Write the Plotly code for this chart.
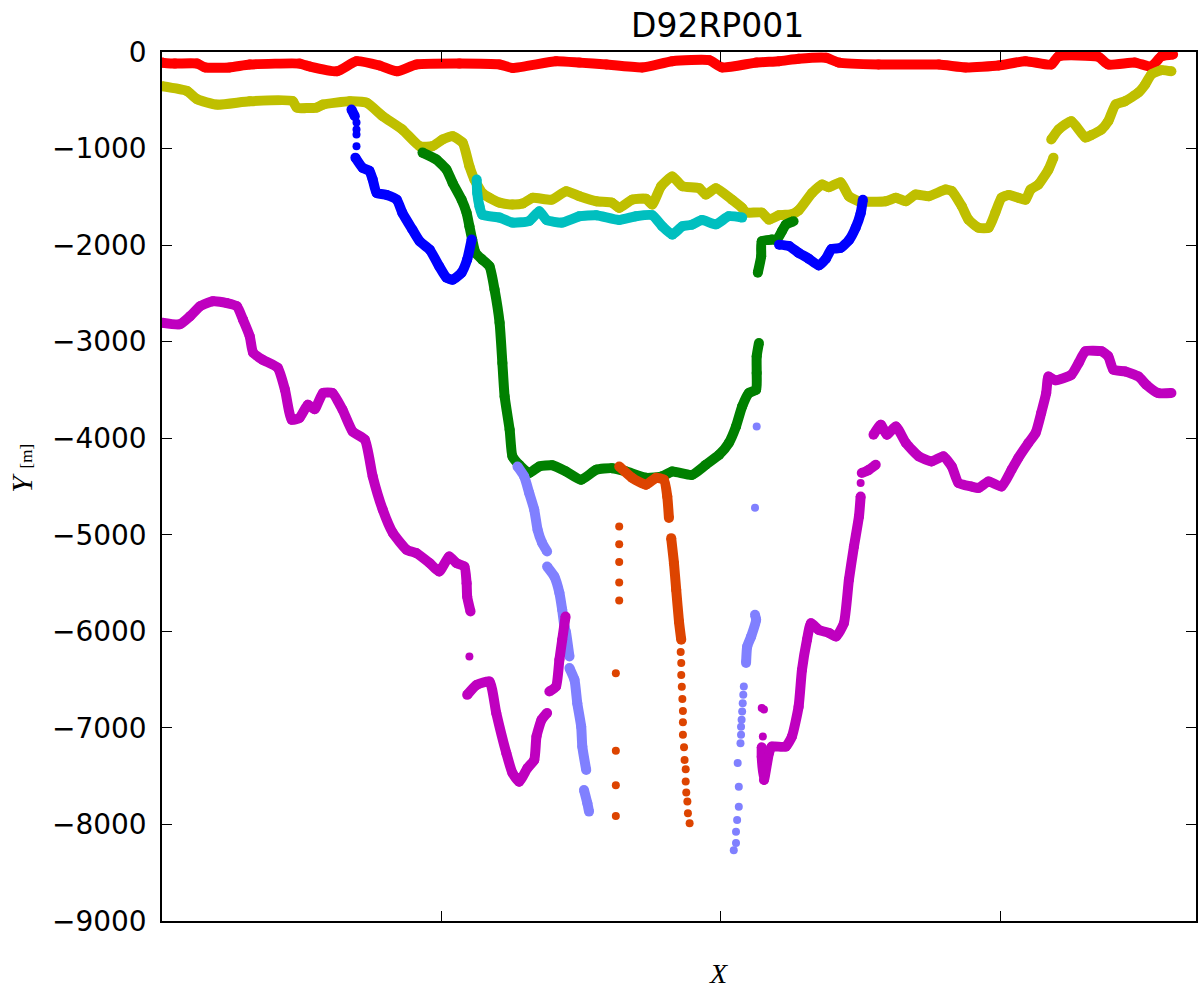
import plotly.graph_objects as go

# ---- data (X: trace index, Y: metres) ----
red_x = [0, 23, 63, 77, 121, 157, 246, 264, 313, 348, 389, 420, 455, 532, 604, 627, 705, 747, 795, 859, 913, 979, 1002, 1063, 1104, 1139, 1188, 1211, 1282, 1390, 1438, 1497, 1545, 1591, 1604, 1675, 1693, 1741, 1770, 1788, 1809]
red_y = [-110, -120, -120, -160, -160, -130, -120, -150, -200, -95, -140, -200, -130, -120, -130, -165, -95, -110, -130, -160, -95, -85, -160, -110, -95, -70, -60, -110, -130, -130, -160, -140, -95, -130, -45, -50, -130, -110, -150, -45, -25]

yellow_x = [0, 45, 63, 98, 157, 234, 241, 277, 288, 336, 366, 395, 430, 461, 484, 502, 520, 538, 550, 559, 573, 586, 604, 627, 645, 663, 697, 723, 747, 777, 805, 818, 841, 866, 877, 893, 913, 931, 961, 973, 991, 1020, 1038, 1045, 1073, 1086, 1104, 1127, 1139, 1163, 1181, 1193, 1214, 1229, 1247, 1295, 1313, 1331, 1348, 1372, 1402, 1413, 1431, 1443, 1461, 1479, 1491, 1502, 1515, 1532, 1545, 1554, 1568, 1586, 1595,
            None, 1591, 1604, 1627, 1652, 1663, 1681, 1693, 1706, 1723, 1747, 1759, 1770, 1788, 1806]
yellow_y = [-355, -405, -490, -545, -510, -510, -575, -575, -545, -510, -525, -665, -803, -975, -975, -907, -873, -940, -1183, -1321, -1460, -1510, -1560, -1580, -1570, -1510, -1530, -1442, -1494, -1546, -1560, -1615, -1530, -1520, -1580, -1390, -1290, -1390, -1410, -1477, -1410, -1530, -1615, -1663, -1663, -1736, -1690, -1680, -1640, -1460, -1373, -1400, -1350, -1494, -1546, -1546, -1510, -1546, -1477, -1494, -1425, -1440, -1598, -1736, -1820, -1820, -1663, -1510, -1480, -1510, -1530, -1425, -1373, -1218, -1094,
            None, -907, -803, -717, -886, -860, -803, -717, -545, -510, -420, -337, -233, -188, -200]

cyan_x = [563, 564, 568, 573, 604, 627, 657, 675, 688, 716, 747, 777, 818, 848, 877, 895, 913, 931, 948, 966, 991, 1014, 1038]
cyan_y = [-1321, -1460, -1598, -1684, -1715, -1767, -1750, -1650, -1740, -1767, -1701, -1690, -1740, -1701, -1690, -1805, -1891, -1805, -1790, -1740, -1785, -1701, -1715]

green_x = [466, 491, 509, 520, 536, 545, 550, 555, 561, 573, 586, 595, 604, 609, 613, 622, 627, 639, 657, 675, 698, 723, 750, 777, 805, 830, 866, 895, 913, 948, 973, 997, 1014, 1027, 1038, 1050, 1063, 1064, 1064, 1068,
           None, 1066, 1072, 1073, 1091, 1100, 1109, 1116, 1130]
green_y = [-1042, -1114, -1218, -1356, -1529, -1666, -1805, -1943, -2080, -2150, -2220, -2461, -2803, -3221, -3567, -3912, -4188, -4275, -4360, -4292, -4280, -4344, -4430, -4327, -4310, -4344, -4410, -4395, -4344, -4380, -4275, -4171, -4050, -3878, -3670, -3532, -3498, -3325, -3152, -3014,
           None, -2285, -2116, -1960, -1943, -1943, -1857, -1788, -1753]

blue_x = [339, 345, None, 346, 359, 371, 377, 384, 402, 420, 430, 448, 461, 479, 496, 509, 520, 536, 546, 554,
          None, 1104, 1122, 1139, 1157, 1175, 1188, 1198, 1214, 1229, 1241, 1250, 1254]
blue_y = [-596, -665, None, -1094, -1200, -1230, -1321, -1460, -1480, -1529, -1666, -1839, -1960, -2047, -2220, -2337, -2358, -2285, -2150, -1943,
          None, -1995, -2010, -2080, -2140, -2210, -2140, -2040, -2030, -1950, -1820, -1670, -1530]
blue_dot_x = [348, 348, 348, 348]
blue_dot_y = [-730, -803, -855, -975]

peri_x = [636, 648, 657, 666, 672, 680, 689, None, 689, 702, 711, 716, 720, 723, 729, None, 729, 738, 743, 750, 752, 759, None, 755, 761, 764,
          None, 1061, 1063, 1054, 1047, 1045]
peri_y = [-4292, -4396, -4568, -4741, -4948, -5083, -5173, None, -5329, -5432, -5601, -5777, -5950, -6016, -6261, None, -6380, -6502, -6744, -6987, -7194, -7436, None, -7643, -7780, -7867,
          None, -5829, -5881, -6054, -6158, -6327]
peri_dot_x = [1064, 1061, 1041, 1040, 1039, 1038, 1037, 1036, 1036, 1035, 1030, 1032, 1032, 1029, 1027, 1027, 1023]
peri_dot_y = [-3878, -4720, -6572, -6658, -6744, -6831, -6917, -6987, -7072, -7159, -7363, -7609, -7816, -7953, -8075, -8193, -8266]

orange_x = [818, 841, 866, 884, 898, 904, 907, None, 911, 916, 920, 925, 929]
orange_y = [-4292, -4410, -4482, -4410, -4430, -4603, -4827, None, -5035, -5294, -5570, -5900, -6088]
orange_dot_x = [928, 929, 929, 930, 931, 932, 932, 932, 934, 935, 937, 937, 938, 940, 941, 944,
                818, 818, 818, 818, 818, 812, 812, 812, 812]
orange_dot_y = [-6214, -6329, -6451, -6573, -6700, -6824, -6941, -7072, -7200, -7332, -7428, -7556, -7670, -7763, -7883, -7987,
                -4914, -5097, -5283, -5494, -5681, -6433, -7238, -7594, -7912]

magenta_x = [0, 32, 50, 68, 91, 116, 134, 145, 157, 163, 180, 207, 220, 232, 246, 261, 273, 288, 305, 323, 341, 363, 377, 395, 413, 438, 455, 479, 496, 514, 527, 541, 545, 546, 552,
             None, 546, 563, 586, 598, 616, 627, 639, 654, 666, 670, 679, 689,
             None, 693, 705, 711, 716, 722,
             None, 1073, 1073, 1077, 1086, 1091, 1116, 1127, 1139, 1145, 1154, 1161, 1175, 1193, 1206, 1220, 1229, 1238, 1247, 1250,
             None, 1252, 1264, 1277,
             None, 1273, 1286, 1297, 1313, 1331, 1354, 1377, 1398, 1413, 1425, 1448, 1461, 1479, 1502, 1520, 1532, 1550, 1563, 1573, 1582, 1586, 1598, 1627, 1640, 1652, 1681, 1693, 1702, 1723, 1747, 1761, 1782, 1806]
magenta_y = [-2803, -2820, -2738, -2634, -2582, -2600, -2634, -2772, -2945, -3114, -3187, -3270, -3498, -3808, -3790, -3653, -3700, -3532, -3532, -3705, -3930, -4016, -4396, -4741, -4981, -5156, -5190, -5294, -5380, -5225, -5294, -5329, -5501, -5640, -5795,
             None, -6658, -6555, -6520, -6845, -7260, -7467, -7557, -7415, -7332, -7090, -6917, -6845,
             None, -6624, -6572, -6295, -6088, -5846,
             None, -7200, -7300, -7539, -7260, -7194, -7194, -7090, -6780, -6400, -6088, -5916, -5985, -6016, -6054, -5916, -5466, -5121, -4810, -4603,
             None, -4360, -4330, -4275,
             None, -3964, -3860, -3964, -3878, -4050, -4188, -4240, -4188, -4292, -4464, -4500, -4515, -4447, -4500, -4327, -4205, -4050, -3946, -3739, -3532, -3360, -3400, -3343, -3221, -3100, -3100, -3152, -3290, -3308, -3360, -3446, -3532, -3532]
magenta_dot_x = [550, 1073, 1077, 1075, 1250]
magenta_dot_y = [-6261, -6793, -6810, -7090, -4464]

y_ticks = [0, -1000, -2000, -3000, -4000, -5000, -6000, -7000, -8000, -9000]
y_tick_text = ["0" if v == 0 else "\u2212" + str(-v) for v in y_ticks]
x_ticks = [500, 1000, 1500]

# ---- figure ----
fig = go.Figure()
LW = 10

def add_line(x, y, color):
    fig.add_trace(go.Scatter(x=x, y=y, mode="lines+markers",
                             line=dict(color=color, width=LW, shape="spline", smoothing=0.5),
                             marker=dict(color=color, size=LW, line=dict(width=0)),
                             hoverinfo="skip", showlegend=False))

def add_dots(x, y, color):
    fig.add_trace(go.Scatter(x=x, y=y, mode="markers",
                             marker=dict(color=color, size=8, line=dict(width=0)),
                             hoverinfo="skip", showlegend=False))

add_line(red_x, red_y, "#ff0000")
add_line(yellow_x, yellow_y, "#bfbf00")
add_line(cyan_x, cyan_y, "#00bfbf")
add_line(green_x, green_y, "#008000")
add_line(blue_x, blue_y, "#0000ff")
add_dots(blue_dot_x, blue_dot_y, "#0000ff")
add_line(peri_x, peri_y, "#8080ff")
add_dots(peri_dot_x, peri_dot_y, "#8080ff")
add_line(orange_x, orange_y, "#dd4400")
add_dots(orange_dot_x, orange_dot_y, "#dd4400")
add_line(magenta_x, magenta_y, "#bf00bf")
add_dots(magenta_dot_x, magenta_dot_y, "#bf00bf")

fig.update_layout(
    width=1199, height=991,
    margin=dict(l=162, r=1, t=52, b=70),
    paper_bgcolor="white", plot_bgcolor="white",
    font=dict(family="DejaVu Sans", color="black"),
    xaxis=dict(range=[0, 1850], tickvals=x_ticks, showticklabels=False,
               ticks="inside", ticklen=10, tickwidth=1, tickcolor="black",
               showline=True, linecolor="black", linewidth=1.5, mirror="ticks",
               showgrid=False, zeroline=False),
    yaxis=dict(range=[-9000, 0], tickvals=y_ticks, ticktext=y_tick_text,
               ticks="inside", ticklen=10, tickwidth=1, tickcolor="black",
               showline=True, linecolor="black", linewidth=1.5, mirror="ticks",
               showgrid=False, zeroline=False,
               tickfont=dict(family="DejaVu Sans", size=28, color="black"),
               ticklabelstandoff=8),
    annotations=[
        dict(text="D92RP001", xref="paper", yref="paper", x=0.5377, y=1.030,
             xanchor="center", yanchor="middle", showarrow=False,
             font=dict(family="DejaVu Sans", size=33, color="black")),
        dict(text="<i>X</i>", xref="paper", yref="paper", x=0.5386, y=-0.0795,
             xanchor="center", yanchor="bottom", showarrow=False, borderpad=0,
             font=dict(family="Liberation Serif", size=28, color="black")),
        dict(text="<i>Y</i> <span style='font-size:17px'>[m]</span>", xref="paper", yref="paper",
             x=-0.136, y=0.521, xanchor="center", yanchor="middle", showarrow=False,
             textangle=-90, font=dict(family="Liberation Serif", size=30, color="black")),
    ],
)

fig.write_html("out.html")
